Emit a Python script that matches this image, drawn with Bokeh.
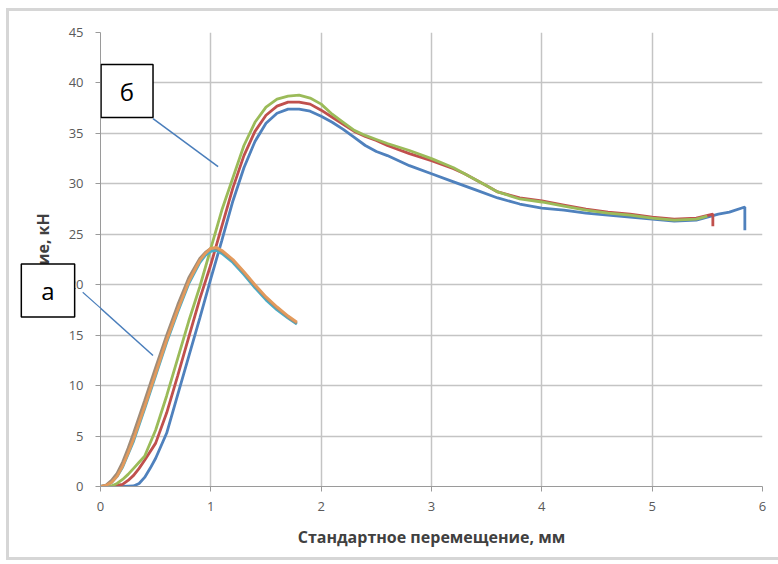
from bokeh.plotting import figure
from bokeh.models import Range1d, FixedTicker, BoxAnnotation, Label, Arrow
from bokeh.embed import file_html
from bokeh.resources import INLINE

# ---- data ----
x_ticks = [0, 1, 2, 3, 4, 5, 6]
y_ticks = [0, 5, 10, 15, 20, 25, 30, 35, 40, 45]

# group "б"
blue_x = [0, 0.2, 0.3, 0.35, 0.4, 0.45, 0.5, 0.6, 0.7, 0.8, 0.9, 1.0, 1.1, 1.2, 1.3, 1.4, 1.5, 1.6, 1.7, 1.8,
          1.9, 2.0, 2.1, 2.2, 2.3, 2.4, 2.5, 2.6, 2.8, 3.0, 3.2, 3.4, 3.6, 3.8, 4.0, 4.2, 4.4, 4.6, 4.8, 5.0,
          5.2, 5.4, 5.6, 5.7, 5.84, 5.84]
blue_y = [0, 0, 0.05, 0.3, 0.9, 1.8, 2.8, 5.3, 9.1, 12.9, 16.7, 20.6, 24.4, 28.3, 31.6, 34.2, 36.0, 37.0, 37.4, 37.4,
          37.2, 36.7, 36.1, 35.4, 34.6, 33.8, 33.2, 32.8, 31.8, 31.0, 30.2, 29.4, 28.6, 28.0, 27.6, 27.4, 27.1, 26.9, 26.7, 26.5,
          26.3, 26.4, 27.0, 27.2, 27.7, 25.4]

red_x = [0, 0.1, 0.2, 0.25, 0.3, 0.35, 0.4, 0.5, 0.6, 0.7, 0.8, 0.9, 1.0, 1.1, 1.2, 1.3, 1.4, 1.5, 1.6, 1.7,
         1.8, 1.9, 2.0, 2.1, 2.2, 2.3, 2.4, 2.5, 2.6, 2.8, 3.0, 3.2, 3.3, 3.4, 3.5, 3.6, 3.8, 4.0, 4.2, 4.4,
         4.6, 4.8, 5.0, 5.2, 5.4, 5.55, 5.55]
red_y = [0, 0, 0.2, 0.6, 1.1, 1.8, 2.6, 4.3, 7.3, 11.0, 14.8, 18.6, 22.0, 25.8, 29.6, 32.8, 35.2, 36.8, 37.7, 38.1,
         38.1, 37.9, 37.3, 36.6, 35.9, 35.2, 34.7, 34.3, 33.8, 33.0, 32.3, 31.5, 31.0, 30.4, 29.8, 29.2, 28.6, 28.3, 27.9, 27.5,
         27.2, 27.0, 26.7, 26.5, 26.6, 27.0, 25.8]

green_x = [0, 0.1, 0.15, 0.2, 0.25, 0.3, 0.35, 0.4, 0.5, 0.6, 0.7, 0.8, 0.9, 1.0, 1.1, 1.2, 1.3, 1.4, 1.5, 1.6,
           1.7, 1.8, 1.9, 2.0, 2.1, 2.2, 2.3, 2.4, 2.5, 2.6, 2.8, 3.0, 3.2, 3.3, 3.4, 3.5, 3.6, 3.8, 4.0, 4.2,
           4.4, 4.6, 4.8, 5.0, 5.2, 5.4, 5.5]
green_y = [0, 0.05, 0.3, 0.7, 1.2, 1.8, 2.4, 3.0, 5.6, 9.0, 12.7, 16.4, 19.8, 23.6, 27.4, 30.6, 33.8, 36.1, 37.6, 38.4,
           38.7, 38.8, 38.5, 37.9, 36.9, 36.1, 35.3, 34.8, 34.4, 34.0, 33.3, 32.5, 31.6, 31.0, 30.4, 29.8, 29.2, 28.5, 28.2, 27.8,
           27.4, 27.1, 26.9, 26.6, 26.4, 26.5, 26.8]

# group "а"
a_x = [0, 0.05, 0.1, 0.15, 0.2, 0.25, 0.3, 0.4, 0.5, 0.6, 0.7, 0.8, 0.9, 0.95, 1.0, 1.05, 1.1, 1.2, 1.3, 1.4,
       1.5, 1.6, 1.7, 1.78]
brown_y = [0, 0.15, 0.6, 1.3, 2.4, 3.8, 5.3, 8.5, 11.8, 15.0, 18.0, 20.7, 22.6, 23.2, 23.6, 23.6, 23.3, 22.4, 21.2, 19.9,
           18.7, 17.7, 16.8, 16.2]
teal_y = [0, 0.1, 0.4, 1.0, 1.9, 3.2, 4.5, 7.7, 11.0, 14.3, 17.3, 20.1, 22.2, 22.9, 23.3, 23.4, 23.1, 22.2, 21.0, 19.7,
          18.5, 17.5, 16.7, 16.1]
orange_y = [0, 0.1, 0.4, 1.0, 2.0, 3.3, 4.7, 7.9, 11.2, 14.5, 17.5, 20.3, 22.4, 23.1, 23.6, 23.7, 23.4, 22.5, 21.3, 20.0,
            18.8, 17.8, 16.9, 16.3]

x_title = "Стандартное перемещение, мм"
y_title = "Усилие, кН"
label_b = "б"
label_a = "а"

# The canvas starts 80px left of the page (negative margin) so that the left panel
# can hold the "а" callout without moving the plot area.
BORDER = "#d6d6d6"
p = figure(width=858, height=556, output_backend="svg", toolbar_location=None,
           x_range=Range1d(0, 6), y_range=Range1d(0, 45),
           min_border_left=180, min_border_right=16, min_border_top=24, min_border_bottom=78,
           background_fill_color="white", border_fill_color="white", border_fill_alpha=0)
p.margin = (8, 0, 0, -80)
p.styles = {
    "background-image": (f"linear-gradient({BORDER},{BORDER}), linear-gradient({BORDER},{BORDER}), "
                         f"linear-gradient({BORDER},{BORDER})"),
    "background-size": "3px 552px, 800px 3px, 800px 3px",
    "background-position": "86px 0px, 86px 0px, 86px 549px",
    "background-repeat": "no-repeat",
}
p.outline_line_color = None

for ax in (p.xaxis, p.yaxis):
    ax.axis_line_color = "#9a9a9a"
    ax.major_tick_line_color = "#9a9a9a"
    ax.major_tick_out = 5
    ax.major_tick_in = 0
    ax.minor_tick_line_color = None
    ax.major_label_text_color = "#5a5a5a"
    ax.major_label_text_font = "Open Sans"
    ax.major_label_text_font_size = "13px"
    ax.axis_label_text_font = "Open Sans"
    ax.axis_label_text_font_style = "bold"
    ax.axis_label_text_font_size = "16px"
    ax.axis_label_text_color = "#404040"

p.xaxis.ticker = FixedTicker(ticks=x_ticks)
p.yaxis.ticker = FixedTicker(ticks=y_ticks)
p.xaxis.major_label_standoff = 10
p.yaxis.major_label_standoff = 12
p.xaxis.axis_label = x_title
p.yaxis.axis_label = y_title
p.xaxis.axis_label_standoff = 12
p.yaxis.axis_label_standoff = 12

p.xgrid.ticker = FixedTicker(ticks=x_ticks)
p.ygrid.ticker = FixedTicker(ticks=y_ticks)
for g in (p.xgrid, p.ygrid):
    g.grid_line_color = "#c4c4c4"
    g.grid_line_width = 1.5

lw = 2.8
p.line(blue_x, blue_y, line_color="#4F81BD", line_width=lw)
p.line(red_x, red_y, line_color="#C0504D", line_width=lw)
p.line(green_x, green_y, line_color="#9BBB59", line_width=lw)
p.line(a_x, teal_y, line_color="#4BACC6", line_width=lw)
p.line(a_x, brown_y, line_color="#A08C78", line_width=lw)
p.line(a_x, orange_y, line_color="#E39A5C", line_width=lw)

# callout lines
call = "#4A7EBB"
p.add_layout(Arrow(x_start=0.476, y_start=36.47, x_end=1.066, y_end=31.71, end=None,
                   line_color=call, line_width=1.5))
p.add_layout(Arrow(x_start=-0.159, y_start=19.23, x_end=0.476, y_end=12.98, end=None,
                   line_color=call, line_width=1.5))
# the short piece of the "а" callout line that lies left of the plot area
p.add_layout(Label(x=-0.079, y=18.45, text=" ", text_align="center", text_baseline="middle",
                   text_font_size="1px", angle=-0.728, background_fill_color=call,
                   padding=(12, 12, 0, 0)), "left")

# callout box "б" (inside the plot area)
p.add_layout(BoxAnnotation(left=0.005, right=0.476, top=41.82, bottom=36.57,
                           fill_color="white", fill_alpha=1, line_color="black", line_alpha=1,
                           line_width=1.5, level="overlay"))
p.add_layout(Label(x=0.24, y=39.2, text=label_b, text_align="center", text_baseline="middle",
                   text_font="Open Sans", text_font_size="24px", text_color="black", level="overlay"))

# callout box "а" (left of the plot area, kept in the left panel so it is not clipped)
p.add_layout(Label(x=-0.476, y=19.43, text=label_a, text_align="center", text_baseline="middle",
                   text_font="Open Sans", text_font_size="24px", text_color="black",
                   background_fill_color="white", border_line_color="black", border_line_width=1.5,
                   padding=(20, 20, 10, 10)), "left")

open("out.html", "w").write(file_html(p, INLINE))
